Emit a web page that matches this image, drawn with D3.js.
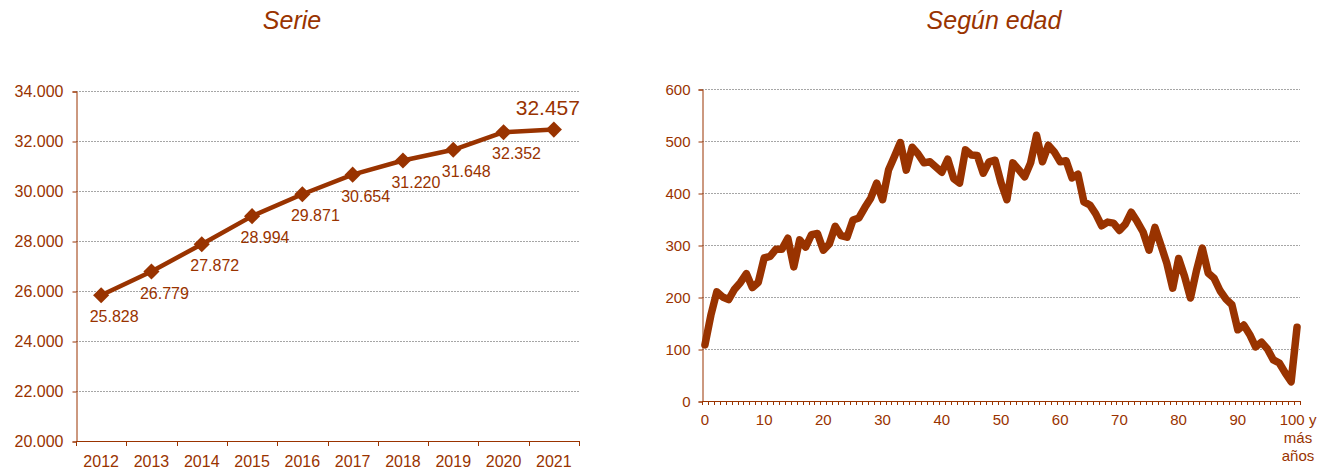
<!DOCTYPE html>
<html>
<head>
<meta charset="utf-8">
<script src="https://cdn.jsdelivr.net/npm/d3@7"></script>
<style>
  body { margin: 0; background: #fff; }
  text { font-family: "Liberation Sans", Arial, sans-serif; fill: #993300; }
  .grid line { stroke: #a6a6a6; stroke-dasharray: 2,1; }
</style>
</head>
<body>
<svg width="1333" height="472"></svg>
<script>
// --- data ---
var years = ["2012","2013","2014","2015","2016","2017","2018","2019","2020","2021"];
var totals = [25828, 26779, 27872, 28994, 29871, 30654, 31220, 31648, 32352, 32457];

var ages = d3.range(0, 101);
var byAge = [108,165,210,200,195,215,228,245,218,228,
             275,278,292,292,313,258,310,296,320,322,
             290,302,336,318,315,348,352,372,390,419,
             387,444,470,497,444,488,475,458,460,450,
             440,465,428,419,483,473,472,438,460,463,
             420,387,458,445,431,458,511,460,492,479,
             460,462,429,436,383,377,360,337,344,342,
             328,340,363,345,325,290,334,300,265,217,
             274,240,198,250,294,246,236,212,196,185,
             137,146,128,104,113,100,79,73,54,37,142];
var ageLabels = {0:"0",10:"10",20:"20",30:"30",40:"40",50:"50",60:"60",70:"70",80:"80",90:"90",100:["100 y","más","años"]};

var brown = "#993300";
var es = d3.formatLocale({decimal: ",", thousands: ".", grouping: [3], currency: ["", "€"]});
var fmt = es.format(",d");

var svg = d3.select("svg");

// ---------- left: Serie ----------
var L = {x0: 76, x1: 579, y0: 91, y1: 441};
var xL = d3.scaleBand().domain(years).range([L.x0, L.x1]);
var yL = d3.scaleLinear().domain([20000, 34000]).range([L.y1, L.y0]);
var gL = svg.append("g");

gL.append("text").attr("x", 292).attr("y", 29)
  .attr("text-anchor", "middle").style("font-size", "25px").style("font-style", "italic")
  .text("Serie");

gL.append("g").attr("class", "grid")
  .selectAll("line").data(yL.ticks(7).filter(d => d > 20000)).enter().append("line")
  .attr("x1", L.x0).attr("x2", L.x1)
  .attr("y1", d => yL(d) + 0.5).attr("y2", d => yL(d) + 0.5);

// y axis
var yAxL = gL.append("g").attr("transform", `translate(${L.x0 + 0.5},0.5)`)
  .call(d3.axisLeft(yL).ticks(7).tickSize(4).tickFormat(fmt));
yAxL.selectAll("path, line").attr("stroke", brown);
yAxL.selectAll("text").attr("x", -13).style("font-size", "16px").attr("fill", brown);

// x axis
gL.append("line").attr("x1", L.x0).attr("x2", L.x1)
  .attr("y1", L.y1 + 0.5).attr("y2", L.y1 + 0.5).attr("stroke", brown);
gL.selectAll(".xtick").data(years.concat(["end"])).enter().append("line")
  .attr("x1", (d, i) => Math.round(L.x0 + i * xL.bandwidth()) + 0.5)
  .attr("x2", (d, i) => Math.round(L.x0 + i * xL.bandwidth()) + 0.5)
  .attr("y1", L.y1).attr("y2", L.y1 + 5).attr("stroke", brown);
gL.selectAll(".xlab").data(years).enter().append("text")
  .attr("x", d => xL(d) + xL.bandwidth() / 2).attr("y", L.y1 + 26)
  .attr("text-anchor", "middle").style("font-size", "16px").text(d => d);

// line + markers
var lineL = d3.line().x((d, i) => xL(years[i]) + xL.bandwidth() / 2).y(d => yL(d));
gL.append("path").datum(totals).attr("d", lineL)
  .attr("fill", "none").attr("stroke", brown).attr("stroke-width", 4.5).attr("stroke-linejoin", "round");
gL.selectAll(".mk").data(totals).enter().append("path")
  .attr("d", d3.symbol(d3.symbolSquare, 130))
  .attr("transform", (d, i) => `translate(${xL(years[i]) + xL.bandwidth() / 2},${yL(d)}) rotate(45)`)
  .attr("fill", brown);

// value labels
gL.selectAll(".vl").data(totals).enter().append("text")
  .attr("x", (d, i) => xL(years[i]) + xL.bandwidth() / 2 + (i === totals.length - 1 ? -6 : 13))
  .attr("y", (d, i) => yL(d) + (i === totals.length - 1 ? -15 : 27))
  .attr("text-anchor", "middle")
  .style("font-size", (d, i) => i === totals.length - 1 ? "21px" : "16px")
  .text(d => fmt(d));

// ---------- right: Según edad ----------
var R = {x0: 702, x1: 1300, y0: 89, y1: 401};
var xR = d3.scaleBand().domain(ages).range([R.x0, R.x1]);
var yR = d3.scaleLinear().domain([0, 600]).range([R.y1, R.y0]);
var gR = svg.append("g");

gR.append("text").attr("x", 994).attr("y", 29)
  .attr("text-anchor", "middle").style("font-size", "25px").style("font-style", "italic")
  .text("Según edad");

gR.append("g").attr("class", "grid")
  .selectAll("line").data(yR.ticks(6).filter(d => d > 0)).enter().append("line")
  .attr("x1", R.x0).attr("x2", R.x1)
  .attr("y1", d => yR(d) + 0.5).attr("y2", d => yR(d) + 0.5);

var yAxR = gR.append("g").attr("transform", `translate(${R.x0 + 0.5},0.5)`)
  .call(d3.axisLeft(yR).ticks(6).tickSize(4));
yAxR.selectAll("path, line").attr("stroke", brown);
yAxR.selectAll("text").attr("x", -12).style("font-size", "15px").attr("fill", brown);

gR.append("line").attr("x1", R.x0).attr("x2", R.x1)
  .attr("y1", R.y1 + 0.5).attr("y2", R.y1 + 0.5).attr("stroke", brown);
gR.selectAll(".xtick").data(d3.range(0, ages.length + 1)).enter().append("line")
  .attr("x1", d => Math.round(R.x0 + d * xR.bandwidth()) + 0.5)
  .attr("x2", d => Math.round(R.x0 + d * xR.bandwidth()) + 0.5)
  .attr("y1", R.y1).attr("y2", R.y1 + 4).attr("stroke", brown);

var xl = gR.selectAll(".xlab").data(ages.filter(a => ageLabels[a] !== undefined)).enter().append("text")
  .attr("x", d => xR(d) + xR.bandwidth() / 2 + (d === 100 ? 1 : 0)).attr("y", R.y1 + 24)
  .attr("text-anchor", "middle").style("font-size", "15px");
xl.each(function(d) {
  var lab = ageLabels[d];
  var t = d3.select(this);
  if (Array.isArray(lab)) {
    lab.forEach((s, k) => t.append("tspan").attr("x", t.attr("x")).attr("dy", k ? 18 : 0).text(s));
  } else t.text(lab);
});

var lineR = d3.line().x((d, i) => xR(ages[i]) + xR.bandwidth() / 2).y(d => yR(d));
gR.append("path").datum(byAge).attr("d", lineR)
  .attr("fill", "none").attr("stroke", brown).attr("stroke-width", 7.5)
  .attr("stroke-linejoin", "round").attr("stroke-linecap", "round");
</script>
</body>
</html>
